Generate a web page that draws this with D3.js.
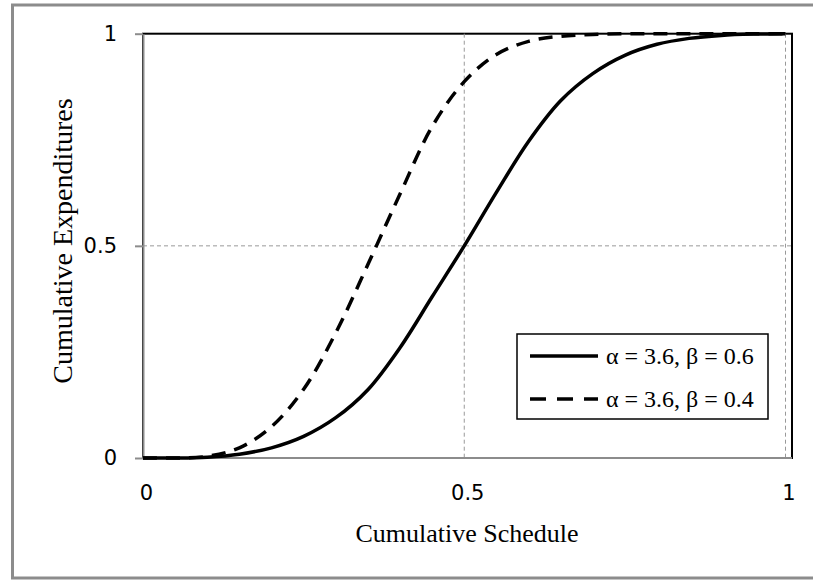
<!DOCTYPE html>
<html>
<head>
<meta charset="utf-8">
<script src="https://cdnjs.cloudflare.com/ajax/libs/d3/7.8.5/d3.min.js"></script>
<style>
  body { margin: 0; background: #fff; }
</style>
</head>
<body>
<script>
'use strict';

// cumulative schedule (x) shared by both curves
const schedule = [0, 0.05, 0.10, 0.15, 0.20, 0.25, 0.30, 0.35, 0.40, 0.45, 0.50,
                  0.55, 0.60, 0.65, 0.70, 0.75, 0.80, 0.85, 0.90, 0.95, 1.00];

// cumulative expenditures
const expA = [0, 0.000, 0.002, 0.009, 0.024, 0.051, 0.095, 0.161, 0.260, 0.380, 0.500,
              0.626, 0.746, 0.842, 0.906, 0.949, 0.975, 0.989, 0.996, 0.999, 1.000];
const expB = [0, 0.000, 0.004, 0.024, 0.074, 0.162, 0.295, 0.456, 0.622, 0.781, 0.887,
              0.951, 0.982, 0.994, 0.998, 1.000, 1.000, 1.000, 1.000, 1.000, 1.000];

const seriesNames = ['\u03b1 = 3.6, \u03b2 = 0.6', '\u03b1 = 3.6, \u03b2 = 0.4'];
const xTicks = [0, 0.5, 1];
const yTicks = [0, 0.5, 1];

(function() {

  let svgContainer = "";

  window.onload = function() {
    svgContainer = d3.select('body')
      .append('svg')
      .attr('width', 813)
      .attr('height', 580);

    makeChart();
  }

  function makeChart() {
    // outer frame (right side runs off the picture)
    svgContainer.append('rect')
      .attr('x', 12.5)
      .attr('y', 5)
      .attr('width', 830)
      .attr('height', 573)
      .attr('fill', 'none')
      .attr('stroke', '#8c8c8c')
      .attr('stroke-width', 3);

    let map = drawAxes();
    plotData(map);
    makeLegend();
    makeLabels();
  }

  // axes, grid and plot border
  function drawAxes() {
    let xScale = d3.scaleLinear().domain([0, 1]).range([143, 785.5]);
    let yScale = d3.scaleLinear().domain([0, 1]).range([458, 33.7]);

    // plot area border
    svgContainer.append('rect')
      .attr('x', 143)
      .attr('y', yScale(1))
      .attr('width', 792 - 143)
      .attr('height', yScale(0) - yScale(1))
      .attr('fill', 'none')
      .attr('stroke', '#000')
      .attr('stroke-width', 2);

    // dashed grid
    svgContainer.selectAll('.hgrid')
      .data(yTicks.filter((d) => d > 0 && d < 1))
      .enter()
      .append('line')
      .attr('x1', 143).attr('x2', 792)
      .attr('y1', (d) => yScale(d)).attr('y2', (d) => yScale(d))
      .attr('stroke', '#999')
      .attr('stroke-width', 1)
      .attr('stroke-dasharray', '4,3');

    svgContainer.selectAll('.vgrid')
      .data(xTicks.filter((d) => d > 0))
      .enter()
      .append('line')
      .attr('x1', (d) => xScale(d)).attr('x2', (d) => xScale(d))
      .attr('y1', yScale(1)).attr('y2', yScale(0))
      .attr('stroke', '#999')
      .attr('stroke-width', 1)
      .attr('stroke-dasharray', '4,3');

    // y axis on the left
    let yAxis = d3.axisLeft(yScale)
      .tickValues(yTicks)
      .tickFormat(d3.format('~g'))
      .tickSizeInner(8)
      .tickSizeOuter(0)
      .tickPadding(18);
    let gy = svgContainer.append('g')
      .attr('transform', 'translate(143, 0)')
      .call(yAxis);
    gy.select('.domain').attr('stroke', '#8c8c8c').attr('stroke-width', 2);
    gy.selectAll('line').attr('stroke', '#8c8c8c').attr('stroke-width', 2);
    gy.selectAll('text')
      .style('font-family', '"DejaVu Sans", sans-serif')
      .style('font-size', '21px')
      .attr('fill', '#000');

    // x axis at the bottom, no ticks
    let xAxis = d3.axisBottom(xScale)
      .tickValues(xTicks)
      .tickFormat(d3.format('~g'))
      .tickSize(0)
      .tickPadding(27);
    let gx = svgContainer.append('g')
      .attr('transform', 'translate(0, 458)')
      .call(xAxis);
    gx.select('.domain')
      .attr('d', 'M143,0H792')
      .attr('stroke', '#8c8c8c')
      .attr('stroke-width', 2);
    gx.selectAll('text')
      .attr('dx', 3)
      .style('font-family', '"DejaVu Sans", sans-serif')
      .style('font-size', '21px')
      .attr('fill', '#000');

    return { xScale: xScale, yScale: yScale };
  }

  // draw the two S-curves
  function plotData(map) {
    let line = d3.line()
      .x((d) => map.xScale(d[0]))
      .y((d) => map.yScale(d[1]))
      .curve(d3.curveCatmullRom.alpha(0.5));

    svgContainer.append('path')
      .datum(schedule.map((s, i) => [s, expB[i]]))
      .attr('d', line)
      .attr('fill', 'none')
      .attr('stroke', '#000')
      .attr('stroke-width', 3.5)
      .attr('stroke-dasharray', '14,9');

    svgContainer.append('path')
      .datum(schedule.map((s, i) => [s, expA[i]]))
      .attr('d', line)
      .attr('fill', 'none')
      .attr('stroke', '#000')
      .attr('stroke-width', 3.5);
  }

  // legend box
  function makeLegend() {
    svgContainer.append('rect')
      .attr('x', 517)
      .attr('y', 334)
      .attr('width', 251)
      .attr('height', 85)
      .attr('fill', '#fff')
      .attr('stroke', '#000')
      .attr('stroke-width', 1.5);

    let rows = svgContainer.selectAll('.legendRow')
      .data(seriesNames)
      .enter()
      .append('g')
      .attr('transform', (d, i) => 'translate(0,' + (356 + i * 43) + ')');

    rows.append('line')
      .attr('x1', 530).attr('x2', 598)
      .attr('y1', 0).attr('y2', 0)
      .attr('stroke', '#000')
      .attr('stroke-width', 3.5)
      .attr('stroke-dasharray', (d, i) => i === 0 ? null : '16,11');

    rows.append('text')
      .attr('x', 606)
      .attr('y', 8)
      .style('font-family', '"Times New Roman", "Liberation Serif", serif')
      .style('font-size', '24px')
      .text((d) => d);
  }

  // axis titles
  function makeLabels() {
    svgContainer.append('text')
      .attr('x', 467)
      .attr('y', 542)
      .attr('text-anchor', 'middle')
      .style('font-family', '"Times New Roman", "Liberation Serif", serif')
      .style('font-size', '26px')
      .text('Cumulative Schedule');

    svgContainer.append('text')
      .attr('transform', 'translate(72, 241)rotate(-90)')
      .attr('text-anchor', 'middle')
      .style('font-family', '"Times New Roman", "Liberation Serif", serif')
      .style('font-size', '28px')
      .text('Cumulative Expenditures');
  }

})();
</script>
</body>
</html>
